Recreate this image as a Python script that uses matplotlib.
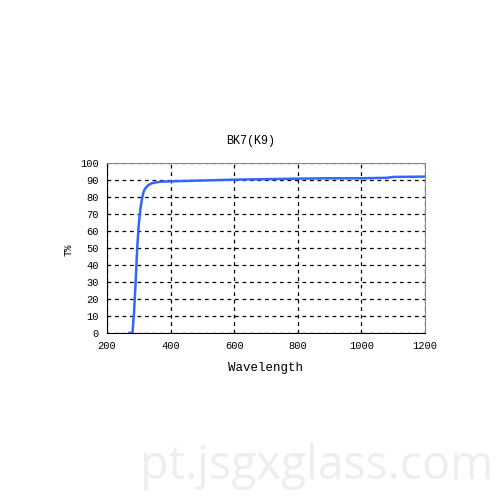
import matplotlib
matplotlib.use("Agg")
import matplotlib.pyplot as plt

wavelength = [270, 280, 285, 290, 295, 300, 305, 310, 315, 320, 330, 340, 350, 370, 400, 500, 600, 700, 800, 900, 1000, 1080, 1100, 1200]
transmission = [0, 0, 12, 30, 50, 64, 73, 79, 83, 85, 87, 88, 88.5, 89, 89.2, 89.7, 90.2, 90.5, 90.8, 91, 91, 91.3, 91.8, 92]
xticks = [200, 400, 600, 800, 1000, 1200]
yticks = list(range(0, 101, 10))

plt.rcParams['font.family'] = ['Liberation Mono', 'DejaVu Sans Mono']

fig = plt.figure(figsize=(5, 5), dpi=100)
ax = fig.add_axes([0.214, 0.334, 0.636, 0.34])
ax.plot(wavelength, transmission, color='#3366ff', lw=1.8)
ax.set_xlim(200, 1200)
ax.set_ylim(0, 100)
ax.set_xticks(xticks)
ax.set_yticks(yticks)
ax.tick_params(length=0, labelsize=7.5, pad=6)
ax.grid(True, color='black', linestyle=(0, (3, 3)), linewidth=0.9)
for s in ['top', 'right']:
    ax.spines[s].set_color('#888888')
for s in ['left', 'bottom']:
    ax.spines[s].set_color('black')
fig.text(0.502, 0.718, 'BK7(K9)', fontsize=8.5, ha='center', va='center')
ax.set_xlabel('Wavelength', fontsize=9, labelpad=8)
fig.text(0.138, 0.50, 'T%', fontsize=7.5, rotation=90, ha='center', va='center')
fig.text(0.633, 0.042, 'pt.jsgxglass.com', fontsize=33.5, color='#eeeeee',
         ha='center', va='baseline', family=['Open Sans', 'DejaVu Sans'])
fig.savefig('out.png')
